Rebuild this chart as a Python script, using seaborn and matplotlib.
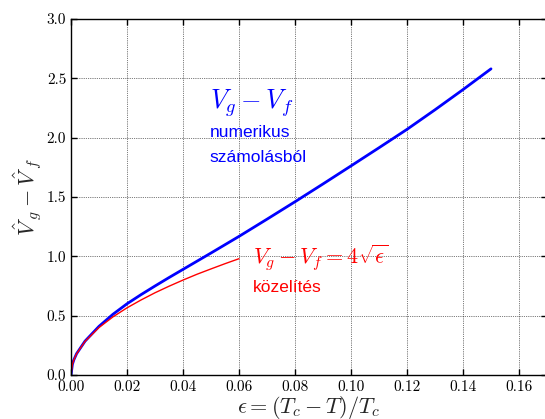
import matplotlib
matplotlib.use("Agg")
import matplotlib.pyplot as plt
import seaborn as sns
import pandas as pd

eps_num = [0, 0.0005, 0.001, 0.002, 0.005, 0.01, 0.015, 0.02, 0.025, 0.03, 0.035, 0.04, 0.05,
           0.06, 0.07, 0.08, 0.09, 0.10, 0.11, 0.12, 0.13, 0.14, 0.15]
dv_num = [0, 0.09, 0.127, 0.18, 0.285, 0.41, 0.512, 0.60, 0.677, 0.750, 0.821, 0.890, 1.028,
          1.168, 1.313, 1.46, 1.61, 1.762, 1.915, 2.07, 2.235, 2.405, 2.58]

eps_appr = [0, 0.0005, 0.001, 0.002, 0.005, 0.01, 0.015, 0.02, 0.025, 0.03, 0.035,
            0.04, 0.045, 0.05, 0.055, 0.06]
dv_appr = [0, 0.089, 0.126, 0.179, 0.283, 0.40, 0.49, 0.566, 0.632, 0.693, 0.748,
           0.80, 0.849, 0.894, 0.938, 0.98]

xticks = [0.00, 0.02, 0.04, 0.06, 0.08, 0.10, 0.12, 0.14, 0.16]
yticks = [0.0, 0.5, 1.0, 1.5, 2.0, 2.5, 3.0]

sns.set_style("ticks")
plt.rcParams["mathtext.fontset"] = "cm"
plt.rcParams["xtick.direction"] = "in"
plt.rcParams["ytick.direction"] = "in"

df_num = pd.DataFrame({"eps": eps_num, "dv": dv_num})
df_appr = pd.DataFrame({"eps": eps_appr, "dv": dv_appr})

fig = plt.figure(figsize=(5.45, 4.19), dpi=100)
ax = fig.add_axes([71 / 545, 1 - 375 / 419, (547 - 71) / 545, (375 - 19) / 419])

sns.lineplot(data=df_num, x="eps", y="dv", ax=ax, color="blue", linewidth=2, estimator=None, sort=False)
sns.lineplot(data=df_appr, x="eps", y="dv", ax=ax, color="red", linewidth=1, estimator=None, sort=False)

ax.set_xlim(0, 0.17)
ax.set_ylim(0, 3.0)
ax.set_xticks(xticks)
ax.set_yticks(yticks)
ax.set_xticklabels([f"{t:.2f}" for t in xticks], fontfamily="cmr10", fontsize=11)
ax.set_yticklabels([f"{t:.1f}" for t in yticks], fontfamily="cmr10", fontsize=11)
ax.tick_params(top=True, right=True, length=4, width=1, colors="black")
ax.grid(True, color="black", linestyle=":", linewidth=0.5)
for s in ax.spines.values():
    s.set_color("black")
    s.set_linewidth(1)

ax.set_xlabel(r"$\epsilon = (T_c - T)/T_c$", fontsize=16, labelpad=0)
ax.set_ylabel(r"$\hat V_g - \hat V_f$", fontsize=16, labelpad=2)

ax.text(0.0495, 2.29, r"$V_g - V_f$", color="blue", fontsize=19, va="center", ha="left")
ax.text(0.0495, 2.04, "numerikus", color="blue", fontsize=12.5, family="Liberation Sans", va="center", ha="left")
ax.text(0.0495, 1.83, "számolásból", color="blue", fontsize=12.5, family="Liberation Sans", va="center", ha="left")

ax.text(0.065, 0.99, r"$V_g - V_f = 4\sqrt{\epsilon}$", color="red", fontsize=16, va="center", ha="left")
ax.text(0.065, 0.74, "közelítés", color="red", fontsize=12.5, family="Liberation Sans", va="center", ha="left")

fig.savefig("out.png", dpi=100)
